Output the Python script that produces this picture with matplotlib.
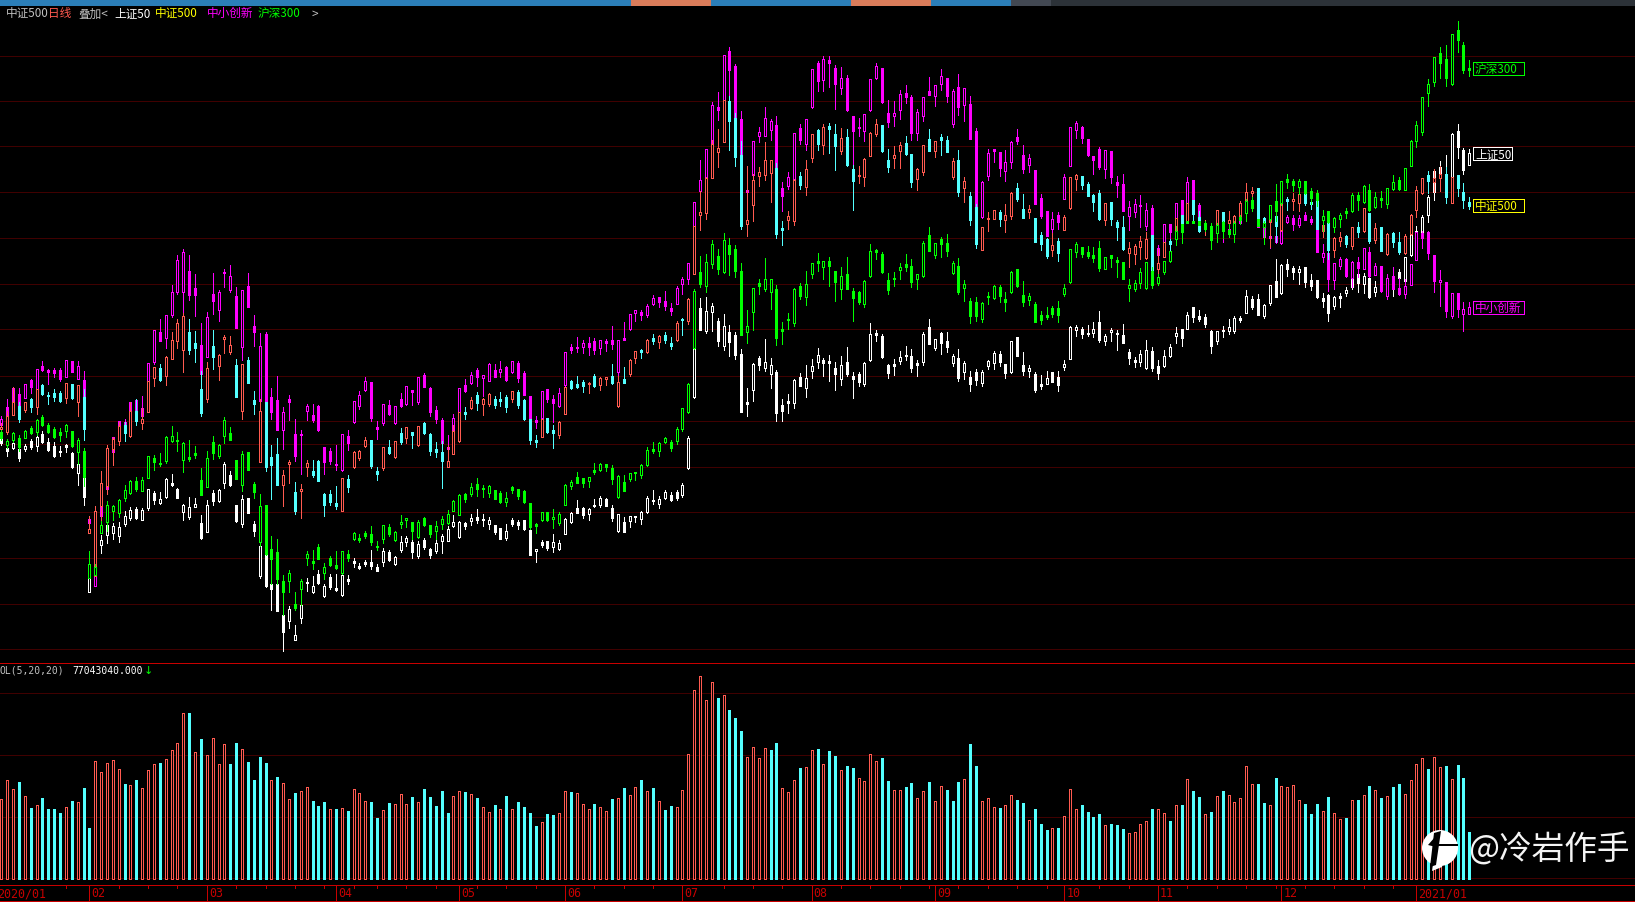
import matplotlib
matplotlib.use('Agg')
import matplotlib.pyplot as plt
from matplotlib.patches import Circle, Polygon, Rectangle
import numpy as np

BLACK = '#000000'
GRID = '#400000'
AXIS_RED = '#C80000'
RED = '#FF5A50'
CYAN = '#54FFFF'
MAGENTA = '#FF00FF'
GREEN = '#00FF00'
WHITE = '#FFFFFF'
YELLOW = '#FFFF00'
GRAY = '#C0C0C0'
CJK = ['Noto Sans CJK SC', 'DejaVu Sans']

# the four overlaid indexes (screen scale: smaller is higher)
# 上证50
w_open = [439,449,449,450,450,442,447,435,443,447,
    452,446,454,474,478,593,580,546,536,534,
    537,525,519,510,521,509,494,504,498,484,
    490,513,518,508,524,533,494,502,484,476,
    506,525,499,525,577,555,585,585,616,622,
    641,619,583,593,575,597,578,589,596,580,
    562,567,563,563,568,563,553,565,551,543,
    543,557,541,550,552,542,542,527,538,524,
    522,518,520,525,526,529,539,521,523,521,
    531,552,543,542,548,550,535,523,509,509,
    515,506,506,500,509,532,523,522,517,520,
    513,501,505,499,496,493,496,469,398,309,
    332,313,322,347,333,336,355,403,391,359,
    369,375,373,406,402,404,378,389,372,363,
    361,362,369,380,363,377,375,385,361,334,
    337,366,365,362,356,357,364,363,328,349,
    334,342,364,359,373,378,373,384,367,364,
    355,365,373,338,366,372,375,385,385,373,
    378,368,360,331,330,334,334,323,342,333,
    334,336,353,361,363,369,352,367,367,357,
    337,330,330,308,317,318,332,342,331,332,
    332,319,314,300,300,317,304,282,294,265,
    269,273,268,281,281,299,296,307,297,294,
    279,275,285,279,293,288,292,277,273,282,
    256,246,238,216,193,177,180,178,132,151,166]
w_close = [444,452,444,459,447,448,438,443,451,457,
    453,448,468,465,498,579,555,541,526,527,
    528,517,511,519,511,490,501,500,480,486,
    499,506,508,505,539,506,502,491,465,486,
    522,500,514,532,547,587,590,612,633,610,
    636,606,584,587,584,587,588,591,576,582,
    564,569,565,567,572,552,561,558,543,539,
    553,545,548,556,544,537,530,523,523,527,
    519,521,521,521,533,540,532,525,526,530,
    556,550,546,549,543,544,520,514,514,516,
    510,507,499,507,519,515,533,517,518,513,
    499,502,500,493,501,499,486,439,350,331,
    312,307,342,327,343,356,413,405,365,366,
    363,366,414,412,404,381,387,379,367,356,
    364,364,375,366,375,380,383,364,335,336,
    358,374,367,358,357,369,366,335,345,340,
    344,348,357,379,364,385,381,373,362,354,
    363,374,342,357,372,369,391,387,379,383,
    386,365,328,328,335,335,330,341,337,331,
    335,344,359,363,355,351,369,374,357,348,
    334,339,316,318,320,325,347,332,332,328,
    319,321,297,308,316,306,286,298,266,270,
    273,270,283,287,298,302,314,298,299,291,
    288,284,277,298,288,278,285,290,279,258,
    235,232,218,198,172,168,195,135,148,171,154]
w_high = [435,447,442,447,445,440,436,432,439,443,
    447,445,453,465,470,579,553,536,524,524,
    523,512,508,508,509,490,492,493,479,475,
    489,505,498,499,516,501,491,490,463,472,
    506,496,499,522,547,550,585,580,610,607,
    626,597,579,577,571,585,575,575,575,576,
    559,564,561,551,565,549,551,557,537,537,
    541,542,539,549,540,535,527,516,522,523,
    515,510,515,518,526,529,525,519,521,521,
    531,550,541,542,535,541,519,513,501,508,
    509,500,497,499,506,515,518,517,517,512,
    497,491,497,491,493,491,484,437,349,299,
    298,304,319,315,326,333,350,389,364,357,
    340,359,371,400,395,380,374,366,360,349,
    359,356,363,357,348,373,373,363,324,331,
    335,365,360,352,347,350,361,333,320,340,
    333,333,355,350,362,372,370,371,361,352,
    352,365,342,338,353,366,373,376,372,373,
    372,361,327,326,328,326,323,312,335,329,
    331,325,350,358,351,341,348,361,351,345,
    328,330,313,308,311,315,331,332,327,320,
    317,317,291,297,295,305,286,260,265,260,
    267,267,268,275,281,294,295,297,294,288,
    272,272,274,274,282,275,280,268,270,258,
    234,227,216,196,170,162,156,134,125,149,150]
w_low = [446,457,450,462,452,450,452,444,452,458,
    457,453,469,486,506,593,582,554,544,540,
    543,527,521,520,521,511,505,505,499,487,
    499,521,520,508,540,533,506,503,489,487,
    523,528,514,537,579,588,611,612,652,629,
    641,624,592,594,585,598,590,592,597,585,
    568,570,567,570,572,567,562,566,553,547,
    559,559,550,559,554,554,542,528,539,530,
    526,524,527,530,535,540,541,527,530,531,
    556,563,548,551,553,551,535,524,514,519,
    521,508,508,507,522,533,533,528,523,525,
    514,505,509,500,502,501,498,470,399,331,
    334,332,347,351,357,360,413,417,402,371,
    372,389,422,422,414,409,387,398,379,369,
    377,382,391,386,377,399,387,387,362,342,
    359,379,376,365,361,373,377,366,345,351,
    355,353,367,382,380,392,386,387,370,370,
    367,379,374,357,376,378,393,390,385,383,
    392,371,360,337,339,337,338,343,346,342,
    351,344,365,368,367,370,372,380,368,358,
    344,347,330,323,322,328,354,345,338,335,
    334,323,314,310,316,319,306,298,295,277,
    280,285,288,291,299,308,322,310,308,297,
    290,293,294,299,297,290,292,297,290,289,
    257,260,240,223,201,184,200,178,159,175,166]

# 中小创新
m_open = [426,408,403,395,399,381,390,367,371,371,
    371,378,362,380,381,520,587,517,483,438,
    427,423,412,401,409,382,363,333,339,316,
    293,293,272,289,346,358,295,311,273,291,
    297,348,287,327,402,335,398,401,431,400,
    435,435,412,416,407,448,452,465,471,437,
    423,407,391,383,428,424,406,424,400,405,
    391,403,376,389,411,421,448,434,413,386,
    384,371,379,382,371,373,368,373,364,374,
    397,421,419,390,400,407,386,348,348,348,
    344,342,349,342,341,373,339,330,314,313,
    316,305,298,302,309,305,285,280,227,192,
    179,145,108,101,52,67,120,191,176,137,
    137,131,126,189,187,181,129,145,108,64,
    81,61,69,89,79,117,128,132,111,79,
    69,114,117,111,94,98,134,117,92,97,
    85,79,125,88,106,105,132,218,177,150,
    153,172,163,138,156,166,171,199,212,230,
    216,200,167,131,128,140,157,150,170,152,
    183,185,217,213,206,227,209,249,243,225,
    219,201,204,181,206,224,228,227,226,230,
    225,219,205,202,220,229,237,237,244,223,
    219,226,216,220,230,258,254,281,267,260,
    279,263,270,253,276,267,297,277,289,295,
    286,261,234,233,256,283,283,317,294,315,315]
m_close = [420,417,389,407,385,388,370,371,373,374,
    380,361,373,367,398,524,576,503,490,453,
    422,426,403,412,417,364,331,342,316,293,
    261,253,296,296,375,318,302,293,274,277,
    329,291,308,333,347,403,413,431,413,403,
    457,436,407,421,431,463,462,466,435,444,
    402,396,382,419,430,405,415,407,407,387,
    393,378,388,413,420,444,450,419,389,392,
    376,378,376,365,378,370,381,362,379,396,
    420,423,392,400,404,394,353,351,349,344,
    348,351,341,344,345,341,341,315,311,316,
    307,299,303,307,312,289,280,264,203,181,
    150,106,111,56,71,119,156,193,142,133,
    119,122,169,197,178,134,141,120,70,82,
    60,64,85,79,111,132,129,115,80,67,
    103,123,114,95,98,134,113,98,96,86,
    77,97,92,108,89,140,207,183,154,152,
    169,163,143,142,170,159,205,217,237,220,
    223,178,128,124,139,156,161,168,151,178,
    186,212,208,205,207,211,236,256,225,233,
    204,216,183,201,218,227,233,231,232,234,
    234,224,211,208,228,238,239,243,230,218,
    225,219,221,223,253,254,280,264,260,277,
    263,269,249,277,267,292,279,290,295,287,
    265,233,239,254,282,281,312,294,310,310,308]
m_high = [417,400,389,389,385,380,370,362,370,369,
    369,361,362,362,372,517,576,472,472,438,
    422,420,403,400,397,364,331,320,316,286,
    256,250,256,275,324,313,274,291,270,266,
    288,291,274,316,334,333,389,377,408,396,
    420,431,405,405,406,448,449,446,435,431,
    402,392,378,383,422,405,401,407,394,387,
    391,378,374,388,407,419,436,415,389,380,
    373,369,376,364,365,362,367,362,362,372,
    397,417,392,390,396,389,353,345,338,341,
    338,339,341,340,327,341,323,315,311,311,
    305,296,298,292,304,287,278,264,203,161,
    150,103,93,56,48,65,112,167,142,128,
    108,120,117,183,173,134,125,120,70,62,
    57,57,66,68,76,117,119,115,80,64,
    69,101,102,91,86,96,110,98,78,86,
    70,79,90,75,89,97,129,182,150,150,
    153,151,142,130,146,155,171,195,212,213,
    213,175,128,122,127,140,157,148,151,152,
    177,175,202,200,196,204,206,246,225,225,
    204,201,178,181,204,222,226,225,225,225,
    222,218,205,200,220,229,231,230,230,216,
    216,216,213,217,230,245,254,264,258,259,
    262,258,249,248,264,267,275,268,279,280,
    265,233,232,232,256,271,283,294,294,303,303]
m_low = [433,417,403,407,399,394,390,372,385,378,
    382,378,373,380,398,525,587,520,495,466,
    433,430,415,418,420,382,365,342,349,318,
    295,316,301,317,375,358,315,322,288,293,
    329,361,308,347,412,403,420,431,450,421,
    462,475,421,423,432,475,465,471,472,451,
    424,410,392,422,440,426,416,425,408,406,
    406,405,388,417,424,450,452,435,413,393,
    385,387,397,382,378,378,382,374,383,396,
    420,429,419,403,423,408,388,354,353,354,
    356,355,355,352,350,376,341,331,322,321,
    318,306,308,311,316,305,295,285,230,192,
    179,145,121,101,100,120,156,221,180,143,
    137,141,169,212,190,181,145,151,109,92,
    92,88,110,95,112,165,137,142,112,80,
    104,128,127,120,104,141,141,122,96,107,
    91,103,128,116,122,140,207,219,181,163,
    177,182,169,145,174,173,205,219,237,243,
    230,200,167,139,144,157,175,170,179,184,
    198,212,231,218,228,231,236,259,245,243,
    219,216,205,201,225,228,235,236,243,238,
    243,225,212,210,228,245,249,244,245,224,
    231,228,221,225,253,263,292,290,270,278,
    288,278,270,278,276,293,300,290,296,299,
    286,261,249,260,293,307,318,319,318,332,315]

# 中证500
r_open = [430,433,416,407,411,400,408,386,396,394,
    394,399,385,403,398,534,577,507,487,450,
    442,426,437,412,424,413,379,369,377,360,
    342,351,333,344,390,400,347,367,340,353,
    366,412,361,401,463,403,458,455,486,465,
    493,492,468,472,462,495,495,504,512,480,
    468,459,447,441,472,469,448,458,434,439,
    433,446,424,435,450,453,468,455,442,413,
    409,396,405,405,400,400,398,400,393,401,
    420,441,438,419,431,436,415,382,385,383,
    385,377,386,380,377,407,380,375,359,351,
    353,339,343,336,344,341,320,322,275,216,
    214,179,153,143,102,119,156,225,206,177,
    176,174,169,229,221,222,177,188,159,131,
    146,127,135,152,138,170,177,178,157,135,
    126,161,159,152,144,155,180,173,140,152,
    138,141,178,161,189,197,208,251,220,220,
    213,221,217,189,210,213,219,236,240,251,
    242,231,209,180,177,185,196,194,221,203,
    223,228,254,255,248,259,236,270,258,242,
    240,216,224,201,218,230,241,233,213,224,
    234,219,209,194,189,219,223,217,231,200,
    202,204,193,203,201,232,223,251,242,237,
    247,228,232,214,241,228,255,234,243,254,
    235,211,194,176,183,179,175,204,176,193,203]
r_close = [428,417,403,420,403,408,390,395,397,398,
    402,384,399,386,430,530,512,484,449,440,
    427,434,412,422,420,382,368,381,358,341,
    324,317,351,349,414,369,358,356,338,346,
    398,365,384,405,412,468,466,486,476,463,
    512,490,464,476,482,506,503,507,479,488,
    453,452,441,467,475,448,454,442,443,428,
    436,427,434,452,453,462,462,432,413,415,
    401,404,400,395,406,402,408,392,406,420,
    441,443,420,433,434,423,388,389,388,387,
    384,387,379,378,384,383,384,361,352,353,
    341,342,337,341,347,324,321,300,227,213,
    179,145,149,101,122,158,227,221,181,173,
    161,161,235,231,217,181,186,170,135,145,
    128,130,147,139,166,182,176,160,134,125,
    152,168,156,146,155,183,170,146,152,142,
    141,153,162,193,182,221,245,228,219,211,
    220,216,194,200,219,210,243,245,257,246,
    254,218,178,176,186,197,203,220,204,220,
    228,250,249,247,242,240,272,264,243,245,
    219,232,204,215,232,227,228,211,226,221,
    217,204,193,192,220,226,219,227,203,202,
    200,195,204,205,230,226,251,239,238,245,
    228,233,209,242,229,252,235,243,253,237,
    216,191,179,182,179,175,198,178,189,201,207]
r_high = [424,412,388,403,403,399,390,385,393,390,
    392,384,385,386,390,517,507,472,446,438,
    423,423,403,400,409,382,368,365,357,333,
    320,314,320,332,372,363,331,355,336,337,
    360,365,358,392,400,403,446,439,471,461,
    483,485,461,461,461,494,491,487,479,476,
    452,451,438,441,468,448,441,442,429,428,
    433,427,423,434,443,442,446,426,413,408,
    398,393,399,394,397,393,396,392,391,400,
    420,436,420,419,426,422,388,381,377,381,
    383,375,378,378,365,377,368,360,352,350,
    340,335,336,333,338,322,319,299,227,192,
    178,141,130,101,97,114,142,167,175,168,
    143,161,164,222,212,180,173,161,135,130,
    125,124,125,129,130,166,167,159,133,120,
    126,150,147,143,137,155,169,146,130,142,
    135,137,159,151,178,193,205,228,213,211,
    211,205,193,184,195,206,219,233,239,234,
    239,216,178,175,177,183,195,191,204,203,
    221,217,243,245,237,233,236,250,243,240,
    219,216,204,201,212,221,226,211,213,212,
    216,202,184,188,189,218,215,215,198,198,
    194,194,193,196,201,221,223,238,233,236,
    228,223,209,214,224,228,234,233,233,235,
    215,187,179,172,170,167,168,178,176,184,198]
r_low = [441,435,416,423,413,413,415,396,405,402,
    403,404,400,417,441,534,577,530,495,466,
    446,442,438,426,430,413,387,382,386,360,
    349,373,355,363,417,403,370,381,354,355,
    398,420,384,415,463,472,500,486,507,484,
    515,519,477,478,482,517,506,510,512,493,
    469,461,448,469,481,471,455,459,445,444,
    449,447,435,456,458,489,468,455,443,420,
    410,411,416,407,409,407,413,403,409,421,
    445,448,438,434,449,439,415,390,389,393,
    394,388,391,386,385,408,384,377,364,359,
    354,345,349,344,350,342,336,325,275,231,
    220,179,168,143,151,167,230,237,222,187,
    181,203,239,246,230,226,190,196,163,151,
    155,154,171,155,167,211,184,187,157,137,
    153,173,169,169,156,188,191,176,152,158,
    156,153,180,197,203,226,249,251,232,220,
    227,233,220,202,219,219,243,251,259,257,
    262,231,210,191,190,197,212,221,226,226,
    241,251,268,265,260,260,272,278,258,258,
    240,244,224,223,233,236,241,234,233,228,
    238,222,209,202,220,227,248,243,232,211,
    211,212,206,210,230,238,260,258,247,248,
    250,238,233,244,244,252,256,248,255,255,
    236,218,195,194,193,192,204,204,197,209,210]

# 沪深300
g_open = [433,446,441,439,439,429,433,418,426,430,
    433,432,432,453,452,579,576,534,523,512,
    514,499,494,482,492,479,459,464,462,442,
    441,461,458,454,481,488,443,457,437,434,
    461,486,453,485,543,506,550,553,582,582,
    605,590,559,562,548,574,559,566,574,555,
    540,539,534,535,547,540,528,541,525,521,
    523,538,519,526,532,525,524,512,516,495,
    495,485,489,494,491,494,503,488,490,492,
    504,525,521,513,520,524,506,487,478,479,
    482,471,471,465,469,498,483,480,473,476,
    466,450,452,443,443,442,430,413,349,273,
    287,265,257,273,246,250,272,333,313,284,
    290,293,290,330,320,324,287,298,275,262,
    268,262,272,290,275,292,293,305,277,251,
    255,281,279,271,265,267,280,277,236,256,
    240,244,274,267,289,302,303,320,297,299,
    288,300,293,270,296,301,305,316,316,309,
    309,295,283,253,248,253,256,249,270,256,
    261,263,289,290,284,289,272,284,273,262,
    240,225,222,222,222,224,227,234,223,231,
    235,218,214,201,220,228,220,202,204,180,
    182,188,182,192,194,221,212,228,220,212,
    212,196,203,191,208,199,205,190,181,191,
    167,142,133,94,83,54,60,85,31,46,69]
g_close = [439,442,434,448,432,434,421,426,433,438,
    436,426,447,441,478,565,568,526,506,507,
    501,491,482,490,481,457,463,465,438,437,
    442,444,460,456,496,459,454,446,421,441,
    480,455,471,493,507,555,560,580,593,574,
    609,582,555,564,560,568,566,569,552,559,
    534,541,537,543,548,526,535,533,523,519,
    532,523,526,535,527,520,515,502,496,500,
    488,490,490,487,500,503,499,491,497,503,
    528,527,513,521,518,515,486,483,484,484,
    478,473,465,468,480,477,492,474,474,466,
    451,452,444,439,449,430,409,385,292,285,
    263,245,270,241,255,272,336,327,289,287,
    280,280,339,332,321,290,297,285,264,264,
    262,267,283,277,290,299,303,282,252,253,
    273,291,280,268,268,283,275,244,252,244,
    245,252,264,293,285,317,317,304,298,287,
    297,303,273,287,303,297,323,321,318,315,
    316,289,250,245,255,257,259,269,258,259,
    263,280,286,284,273,263,286,278,262,252,
    232,233,224,224,226,230,241,226,232,235,
    224,221,202,209,227,224,206,212,182,183,
    186,182,194,199,201,217,223,219,216,214,
    196,201,187,211,198,201,189,183,190,169,
    142,126,98,85,58,64,79,35,41,71,71]
g_high = [431,440,433,436,431,427,420,416,424,428,
    429,425,432,439,449,552,565,522,502,506,
    500,486,481,478,478,457,456,454,437,427,
    433,443,441,447,469,452,437,445,418,428,
    461,452,453,483,495,506,537,540,576,571,
    593,580,552,551,545,564,557,552,552,551,
    533,535,532,527,542,526,525,532,516,519,
    523,521,518,526,522,517,511,501,495,494,
    484,479,486,486,491,492,493,487,490,491,
    504,524,513,513,510,513,485,481,473,479,
    478,464,464,465,466,476,476,474,473,465,
    448,443,443,438,441,428,409,384,290,257,
    255,241,250,234,239,246,264,311,289,280,
    259,280,286,323,314,289,284,272,264,254,
    262,258,272,268,258,289,292,281,245,250,
    253,274,273,264,255,260,275,242,228,244,
    238,235,262,259,281,299,298,303,293,286,
    286,293,272,270,282,294,303,312,308,307,
    302,285,250,243,248,247,248,242,258,256,
    258,263,280,281,269,263,268,275,262,252,
    227,225,222,222,222,222,224,224,222,225,
    222,216,200,198,220,222,206,185,182,175,
    180,180,182,189,191,211,212,218,214,209,
    194,193,186,185,193,192,189,176,178,169,
    141,122,98,80,58,48,46,35,21,43,61]
g_low = [441,449,443,452,439,435,436,427,434,439,
    442,438,448,465,487,579,576,534,532,521,
    518,502,495,492,492,479,471,467,464,443,
    452,473,462,459,496,488,460,459,444,441,
    480,492,471,499,547,556,585,585,616,593,
    611,606,566,570,560,580,567,570,575,562,
    541,543,539,546,551,544,537,542,529,528,
    540,539,527,538,540,530,525,512,516,503,
    497,497,498,498,500,504,507,494,500,504,
    530,534,522,522,529,526,506,490,484,488,
    488,475,472,472,485,499,492,482,481,479,
    467,454,457,444,452,445,432,414,350,288,
    293,269,275,274,276,278,336,344,331,295,
    292,310,346,345,330,327,300,306,279,272,
    280,287,302,300,290,322,305,308,278,260,
    274,295,287,280,272,288,290,278,252,259,
    258,257,275,295,302,324,322,323,305,300,
    303,312,294,288,307,306,323,325,320,318,
    323,297,284,258,258,259,263,272,270,268,
    278,280,302,292,289,290,289,286,275,263,
    246,244,224,224,226,232,250,243,239,238,
    243,225,222,212,227,245,222,222,206,189,
    192,195,195,205,207,232,224,233,228,219,
    213,211,204,212,209,208,209,191,191,191,
    167,148,136,107,87,79,87,86,53,74,77]

# volume panel
volumes = [80,99,90,97,83,71,74,81,70,70,
    66,72,78,77,91,51,118,107,116,119,
    110,95,94,99,91,109,115,116,120,129,
    136,166,166,127,140,124,141,115,135,115,
    136,130,117,99,122,116,99,102,96,80,
    86,88,92,78,73,77,70,70,71,68,
    90,86,78,77,61,69,76,75,85,75,
    82,77,90,82,73,88,66,83,88,87,
    85,81,72,67,74,70,83,70,77,72,
    66,53,57,65,64,66,88,87,86,75,
    70,75,72,68,80,81,91,84,92,99,
    88,91,78,69,73,72,89,125,189,203,
    179,197,181,184,169,161,148,122,132,121,
    131,129,136,91,87,99,111,112,129,130,
    115,128,123,109,113,111,101,98,125,118,
    121,98,89,89,92,96,81,88,97,78,
    93,89,78,97,100,135,113,78,81,72,
    71,74,84,79,76,59,70,55,49,51,
    51,63,90,70,74,67,62,65,54,55,
    54,50,46,47,55,58,70,70,66,58,
    74,74,100,88,82,65,67,83,88,84,
    77,81,113,95,95,76,74,101,93,92,
    94,79,75,65,75,68,82,66,60,61,
    79,79,84,93,89,81,83,92,95,85,
    99,115,121,110,122,112,113,100,114,101,47]
vol_up = [1,1,1,0,1,0,1,0,0,0,
    0,1,0,1,0,0,1,1,1,1,
    1,0,1,0,1,1,1,0,1,1,
    1,1,0,1,0,1,1,1,1,0,
    0,1,0,0,0,0,1,0,1,1,
    0,1,1,0,0,0,1,0,1,0,
    1,1,1,0,0,1,0,1,1,1,
    0,1,0,0,0,0,0,1,1,0,
    1,0,1,1,0,1,0,1,0,0,
    0,0,1,0,0,1,1,0,1,1,
    1,0,1,1,0,1,0,1,1,0,
    1,0,1,0,0,1,1,1,1,1,
    1,1,0,1,0,0,0,1,1,1,
    1,0,0,1,1,1,0,1,1,0,
    1,0,0,1,0,0,1,1,1,1,
    0,0,1,1,0,0,1,1,0,1,
    1,0,0,0,1,0,0,1,1,1,
    0,1,1,0,0,1,0,0,0,1,
    0,1,1,1,0,0,0,0,1,0,
    0,0,1,1,1,1,0,1,1,0,
    1,0,1,0,0,1,0,1,0,1,
    1,1,1,1,0,0,1,0,1,1,
    1,1,0,0,0,1,0,1,1,0,
    1,0,1,0,1,0,1,0,0,1,
    1,1,1,0,1,1,0,1,0,0,0]

price_grid = [57,102,147,193,239,285,330,377,422,445,468,513,559,605,650]
vol_grid = [1,62,124,186]

month_labels = ['2020/01','02','03','04','05','06','07','08','09','10','11','12','2021/01']
month_pos = [-1,15,35,57,78,96,116,138,159,181,197,218,241]
week_pos = [11,20,25,30,40,45,50,55,60,64,69,74,81,86,91,101,106,111,123,128,133,
            143,148,153,158,163,168,173,178,187,192,202,207,212,217,222,227,232,237]

FIG_W, FIG_H = 1635, 903
PX = 5.872                # one trading day on screen
X_LIM = (-1.3/PX, (FIG_W - 1.3)/PX)
BODY = 2/PX
LW = 0.72


def panel(top, bottom):
    ax = fig.add_axes([0, 1 - bottom/FIG_H, 1, (bottom - top)/FIG_H])
    ax.set_facecolor(BLACK)
    ax.set_xlim(*X_LIM)
    ax.axis('off')
    return ax


def candles(ax, o, c, h, l, up_col, down_col, z):
    o, c, h, l = map(np.array, (o, c, h, l))
    x = np.arange(len(c))
    up = c < o
    cols = [up_col if u else down_col for u in up]
    faces = [BLACK if u else down_col for u in up]
    ax.vlines(x, h, l, colors=cols, lw=LW, zorder=z, antialiased=False)
    ax.bar(x, np.abs(o - c), bottom=np.minimum(o, c), width=BODY, color=faces,
           edgecolor=cols, linewidth=LW, zorder=z + 0.1, antialiased=False)


fig = plt.figure(figsize=(FIG_W/100, FIG_H/100), dpi=100, facecolor=BLACK)

# price panel
ax1 = panel(22, 664)
ax1.set_ylim(664, 22)
ax1.hlines(price_grid, *X_LIM, colors=GRID, lw=LW, zorder=1, antialiased=False)
candles(ax1, w_open, w_close, w_high, w_low, WHITE, WHITE, 2)
candles(ax1, m_open, m_close, m_high, m_low, MAGENTA, MAGENTA, 3)
candles(ax1, r_open, r_close, r_high, r_low, RED, CYAN, 4)
candles(ax1, g_open, g_close, g_high, g_low, GREEN, GREEN, 5)

# volume panel
ax2 = panel(664, 886)
ax2.set_ylim(-6, 216)
ax2.hlines(vol_grid, *X_LIM, colors=GRID, lw=LW, zorder=1, antialiased=False)
vol_cols = [RED if u else CYAN for u in vol_up]
vol_faces = [BLACK if u else CYAN for u in vol_up]
ax2.bar(np.arange(len(volumes)), volumes, width=BODY, color=vol_faces,
        edgecolor=vol_cols, linewidth=LW, zorder=2, antialiased=False)

# date strip
ax3 = panel(886, 903)
ax3.set_ylim(1, 0)
ax3.vlines(month_pos, 0, 1, colors=AXIS_RED, lw=LW, antialiased=False)
for pos, label in zip(month_pos, month_labels):
    ax3.text(pos + 0.35, 0.47, label, color=AXIS_RED, fontsize=8.4,
             family='DejaVu Sans Mono', va='center', ha='left')

# screen furniture, in pixels
ov = fig.add_axes([0, 0, 1, 1], facecolor='none')
ov.set_xlim(0, FIG_W)
ov.set_ylim(FIG_H, 0)
ov.axis('off')

tabs = [(0, 631, '#2B7EB8'), (631, 711, '#D97C5A'), (711, 851, '#2B7EB8'),
        (851, 931, '#D97C5A'), (931, 1011, '#2B7EB8'), (1011, 1051, '#424852'),
        (1051, 1635, '#2C3238')]
for x0, x1, col in tabs:
    ov.add_patch(Rectangle((x0, 0), x1 - x0, 7, color=col, lw=0))
ov.hlines([664, 886, 902], 0, FIG_W, colors=AXIS_RED, lw=LW, antialiased=False)
ov.vlines(np.array(week_pos)*PX + 1.3, 886, 889, colors=AXIS_RED, lw=LW, antialiased=False)

legend = [(6, '中证500', GRAY), (48, '日线', '#FF5A50'), (78, '叠加<', GRAY),
          (114, '上证50', WHITE), (155, '中证500', YELLOW), (207, '中小创新', MAGENTA),
          (258, '沪深300', GREEN), (311, '>', GRAY)]
for x, label, col in legend:
    ov.text(x, 14, label, color=col, fontsize=8.4, family=CJK, va='center', ha='left')

boxes = [('沪深300', 1524, 69.5, GREEN), ('上证50', 1512, 154.5, WHITE),
         ('中证500', 1524, 206.5, YELLOW), ('中小创新', 1524, 308.5, MAGENTA)]
for label, x1, y, col in boxes:
    ov.add_patch(Rectangle((1473, y - 6.5), x1 - 1473, 13, fill=False, edgecolor=col,
                           lw=LW, antialiased=False))
    ov.text(1475, y, label, color=col, fontsize=8.4, family=CJK, va='center', ha='left')

ov.text(0, 671, 'OL(5,20,20)', color=GRAY, fontsize=7, family='DejaVu Sans Mono', va='center')
ov.text(72, 671, '77043040.000', color=WHITE, fontsize=7, family='DejaVu Sans Mono', va='center')
ov.text(148, 671, '↓', color=GREEN, fontsize=8, family='DejaVu Sans', va='center', ha='center')

# watermark
ov.add_patch(Circle((1440, 849), 18, color=WHITE, lw=0, zorder=6))
ov.add_patch(Polygon([(1432, 872), (1435, 851), (1446, 848), (1442, 868)], color=WHITE, lw=0, zorder=6))
ov.add_patch(Polygon([(1434, 834), (1441, 832), (1436, 866), (1430, 868)], color=BLACK, lw=0, zorder=7))
ov.add_patch(Polygon([(1428, 846), (1435, 838), (1436, 848)], color=BLACK, lw=0, zorder=7))
ov.add_patch(Rectangle((1437, 845), 21, 2, color=BLACK, lw=0, zorder=7))
ov.text(1468, 850, '@冷岩作手', color='#F4F4F4', fontsize=23.5, family=CJK,
        va='center', ha='left', zorder=7)

fig.savefig('out.png', dpi=100, facecolor=BLACK)
plt.close(fig)
